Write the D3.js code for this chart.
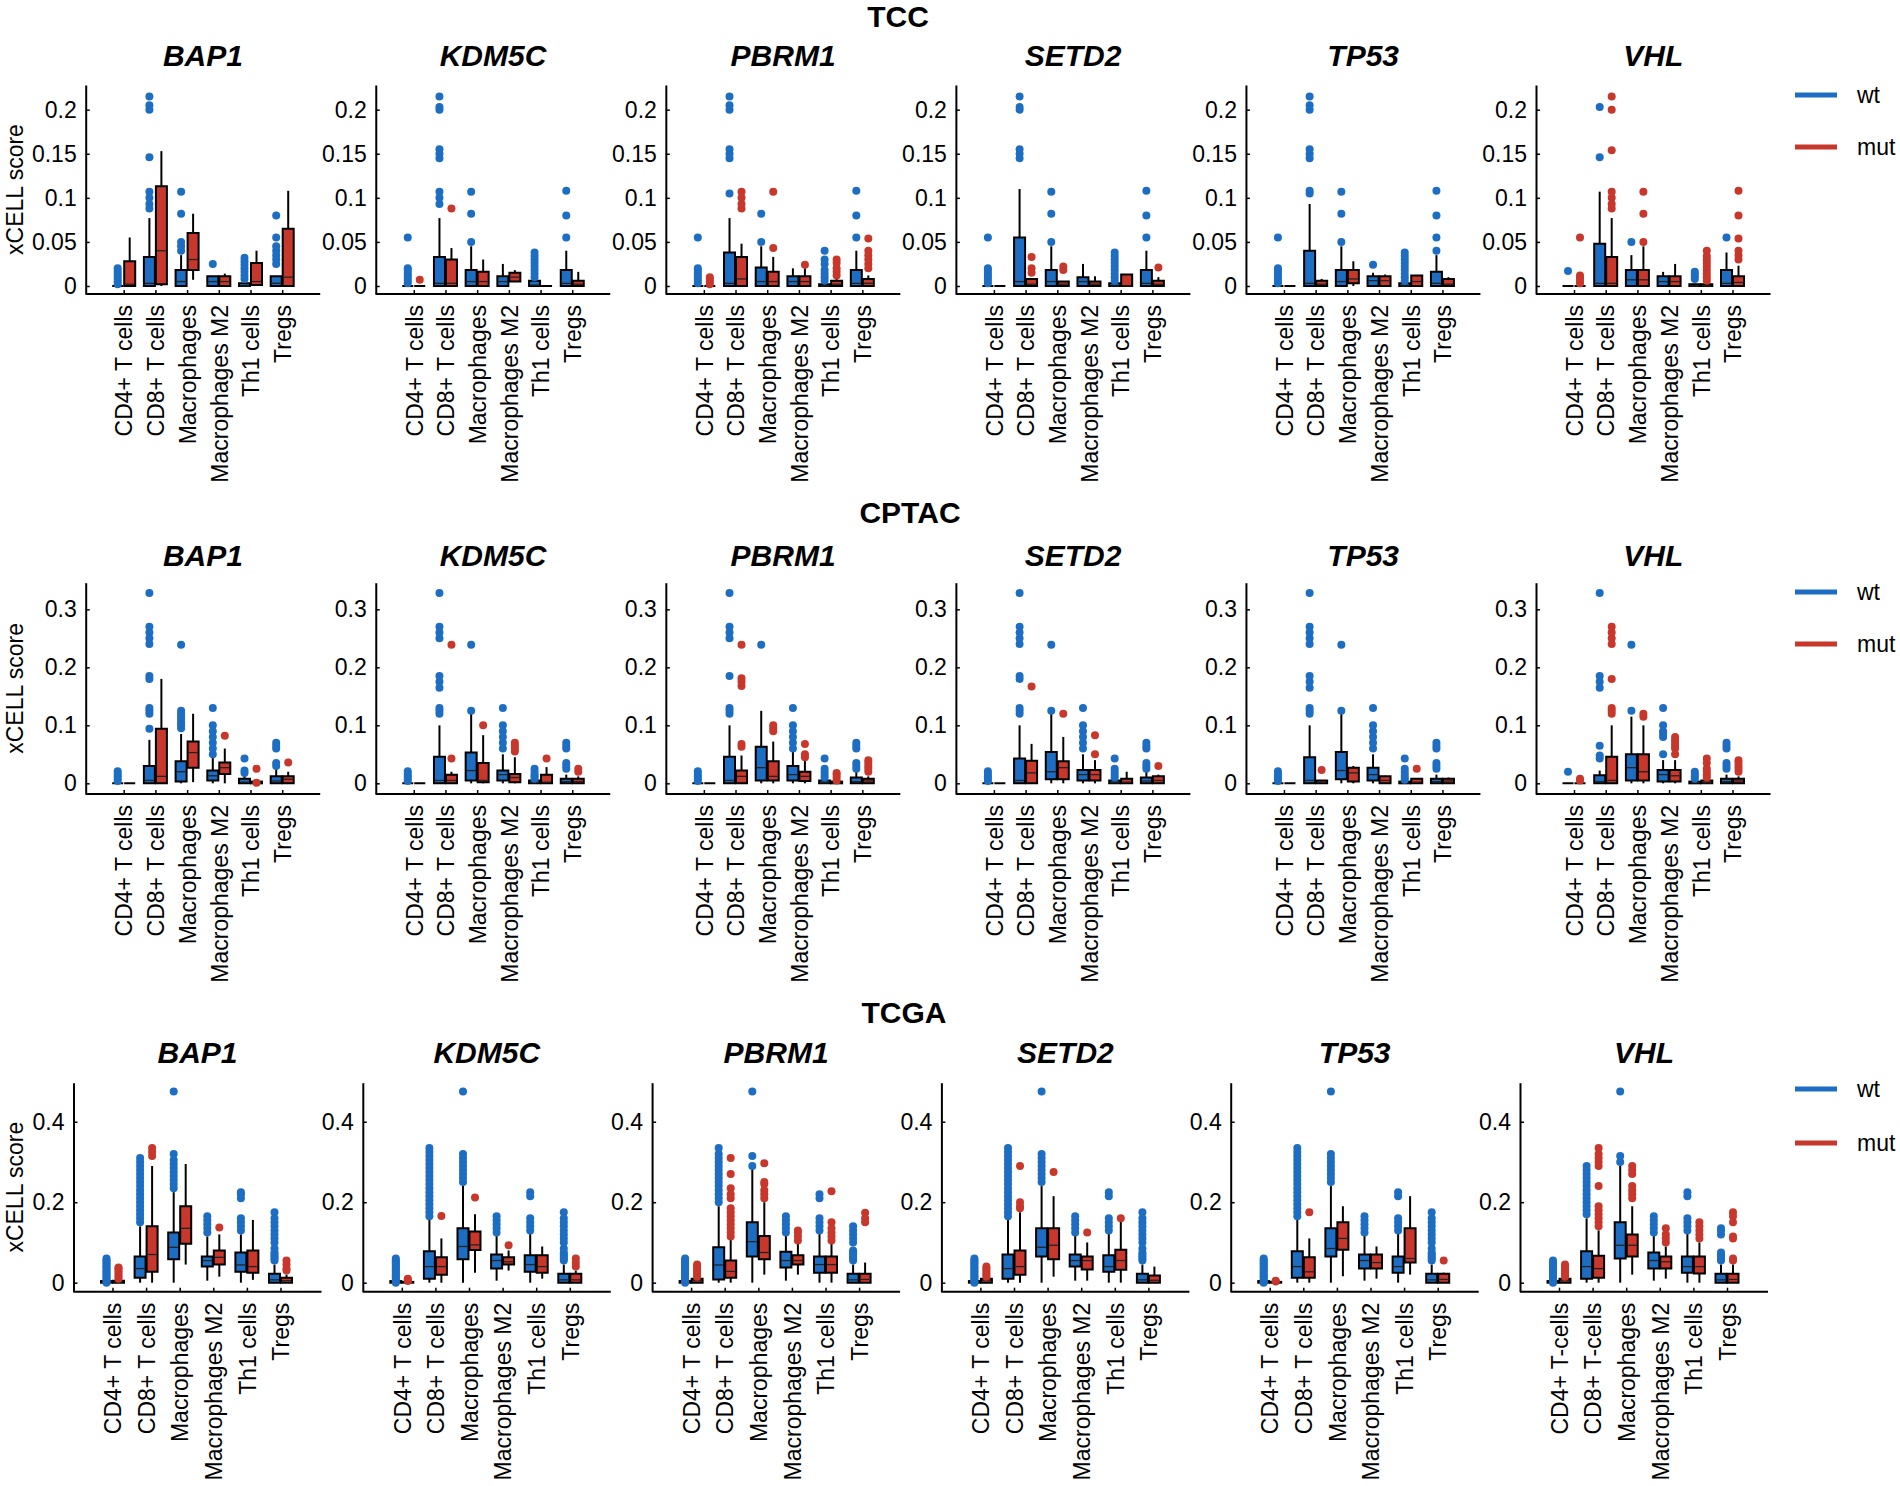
<!DOCTYPE html>
<html><head><meta charset="utf-8">
<script src="https://cdn.jsdelivr.net/npm/d3@7"></script>
<style>
body{margin:0;background:#fff;}
text{font-family:"Liberation Sans",Arial,Helvetica,sans-serif;fill:#000;}
</style>
</head><body>
<svg id="c" width="1900" height="1486"></svg>
<script>
// ---------------- data ----------------
const datasets = ["TCC", "CPTAC", "TCGA"];
const genes = ["BAP1", "KDM5C", "PBRM1", "SETD2", "TP53", "VHL"];
const cellTypes = ["CD4+ T cells", "CD8+ T cells", "Macrophages", "Macrophages M2", "Th1 cells", "Tregs"];
const cellLabelsAlt = ["CD4+ T-cells", "CD8+ T-cells", "Macrophages", "Macrophages M2", "Th1 cells", "Tregs"];
const groups = ["wt", "mut"];
const tccTicks = [0, 0.05, 0.1, 0.15, 0.2];
const cptacTicks = [0, 0.1, 0.2, 0.3];
const tcgaTicks = [0, 0.2, 0.4];

// each entry: [q1, median, q3, whiskerLow, whiskerHigh, outliers]
// order: CD4 wt, CD4 mut, CD8 wt, CD8 mut, Mac wt, Mac mut, M2 wt, M2 mut, Th1 wt, Th1 mut, Tregs wt, Tregs mut
const tccCD4wt = [0.002, 0.005, 0.008, 0.011, 0.014, 0.017, 0.02];
const tccTh1wt = [0.006, 0.01, 0.014, 0.018, 0.022, 0.026, 0.03, 0.034, 0.038];

const tcc_BAP1 = [
  [0, 0, 0, 0, 0, tccCD4wt],
  [0, 0.002, 0.028, 0, 0.055, []],
  [0, 0.003, 0.033, 0, 0.077, [0.088, 0.093, 0.1, 0.107, 0.146, 0.2, 0.205, 0.215]],
  [0.002, 0.04, 0.113, 0, 0.153, []],
  [0, 0.005, 0.018, 0, 0.035, [0.04, 0.045, 0.05, 0.082, 0.107]],
  [0.018, 0.03, 0.06, 0.007, 0.082, []],
  [0, 0.005, 0.011, 0, 0.011, [0.025]],
  [0, 0.005, 0.011, 0, 0.014, []],
  [0, 0, 0.003, 0, 0.003, [0.008, 0.012, 0.016, 0.02, 0.024, 0.028, 0.032]],
  [0.001, 0.005, 0.026, 0, 0.04, []],
  [0, 0.003, 0.011, 0, 0.011, [0.025, 0.03, 0.035, 0.04, 0.045, 0.055, 0.08]],
  [0, 0.01, 0.065, 0, 0.108, []]
];
const tcc_KDM5C = [
  [0, 0, 0, 0, 0, [0.003, 0.006, 0.009, 0.012, 0.015, 0.018, 0.02, 0.055]],
  [0, 0, 0, 0, 0, [0.007]],
  [0, 0.003, 0.033, 0, 0.077, [0.093, 0.1, 0.107, 0.145, 0.15, 0.155, 0.2, 0.203, 0.215]],
  [0, 0.003, 0.03, 0, 0.043, [0.088]],
  [0, 0.005, 0.018, 0, 0.045, [0.05, 0.082, 0.107]],
  [0, 0.005, 0.016, 0, 0.03, []],
  [0, 0.005, 0.011, 0, 0.025, []],
  [0.005, 0.01, 0.015, 0.005, 0.018, []],
  [0, 0.001, 0.006, 0, 0.006, [0.01, 0.014, 0.018, 0.022, 0.026, 0.03, 0.034, 0.038]],
  [0, 0, 0, 0, 0, []],
  [0, 0.003, 0.018, 0, 0.04, [0.055, 0.08, 0.108]],
  [0, 0.002, 0.006, 0, 0.016, []]
];
const tcc_PBRM1 = [
  [0, 0, 0, 0, 0, [0.003, 0.006, 0.009, 0.012, 0.015, 0.018, 0.02, 0.055]],
  [0, 0, 0, 0, 0, [0.002, 0.005, 0.008, 0.01]],
  [0, 0.003, 0.038, 0, 0.077, [0.105, 0.145, 0.15, 0.155, 0.2, 0.205, 0.215]],
  [0, 0.008, 0.033, 0, 0.048, [0.088, 0.093, 0.1, 0.107]],
  [0, 0.005, 0.021, 0, 0.045, [0.05, 0.082]],
  [0, 0.005, 0.016, 0, 0.033, [0.043, 0.107]],
  [0, 0.005, 0.011, 0, 0.02, []],
  [0, 0.005, 0.011, 0, 0.02, [0.024]],
  [0, 0, 0.002, 0, 0.002, [0.006, 0.01, 0.014, 0.018, 0.025, 0.03, 0.04]],
  [0, 0.002, 0.006, 0, 0.008, [0.012, 0.016, 0.02, 0.026, 0.03]],
  [0, 0.003, 0.018, 0, 0.04, [0.055, 0.08, 0.108]],
  [0, 0.003, 0.008, 0, 0.012, [0.02, 0.025, 0.03, 0.035, 0.04, 0.054]]
];
const tcc_SETD2 = [
  [0, 0, 0, 0, 0, [0.003, 0.006, 0.009, 0.012, 0.015, 0.018, 0.02, 0.055]],
  [0, 0, 0, 0, 0, []],
  [0, 0.005, 0.055, 0, 0.11, [0.145, 0.15, 0.155, 0.2, 0.203, 0.215]],
  [0, 0.002, 0.008, 0, 0.008, [0.015, 0.02, 0.033]],
  [0, 0.005, 0.018, 0, 0.045, [0.05, 0.082, 0.107]],
  [0, 0.002, 0.005, 0, 0.005, [0.018, 0.022]],
  [0, 0.005, 0.01, 0, 0.025, []],
  [0, 0.002, 0.005, 0, 0.011, []],
  [0, 0, 0.003, 0, 0.003, tccTh1wt],
  [0, 0, 0.013, 0, 0.013, []],
  [0, 0.003, 0.018, 0, 0.04, [0.055, 0.08, 0.108]],
  [0, 0.002, 0.006, 0, 0.01, [0.021]]
];
const tcc_TP53 = [
  [0, 0, 0, 0, 0, [0.003, 0.006, 0.009, 0.012, 0.015, 0.018, 0.02, 0.055]],
  [0, 0, 0, 0, 0, []],
  [0, 0.003, 0.04, 0, 0.093, [0.105, 0.108, 0.145, 0.15, 0.155, 0.2, 0.205, 0.215]],
  [0, 0.002, 0.006, 0, 0.008, []],
  [0, 0.005, 0.018, 0, 0.045, [0.05, 0.082, 0.107]],
  [0.003, 0.008, 0.018, 0, 0.028, []],
  [0, 0.006, 0.011, 0, 0.015, [0.024]],
  [0, 0.006, 0.011, 0, 0.013, []],
  [0, 0, 0.003, 0, 0.003, tccTh1wt],
  [0, 0.005, 0.012, 0, 0.012, []],
  [0, 0.003, 0.016, 0, 0.035, [0.04, 0.055, 0.08, 0.108]],
  [0, 0.002, 0.008, 0, 0.01, []]
];
const tcc_VHL = [
  [0, 0, 0, 0, 0, [0.017]],
  [0, 0, 0, 0, 0, [0.003, 0.006, 0.009, 0.012, 0.055]],
  [0, 0.003, 0.048, 0, 0.107, [0.146, 0.203]],
  [0, 0.003, 0.033, 0, 0.077, [0.088, 0.093, 0.1, 0.107, 0.154, 0.2, 0.215]],
  [0, 0.007, 0.018, 0, 0.035, [0.05]],
  [0, 0.007, 0.018, 0, 0.045, [0.05, 0.082, 0.107]],
  [0, 0.005, 0.011, 0, 0.016, []],
  [0, 0.005, 0.011, 0, 0.025, []],
  [0, 0, 0.002, 0, 0.002, [0.008, 0.011, 0.014, 0.016]],
  [0, 0, 0.002, 0, 0.002, [0.006, 0.01, 0.014, 0.018, 0.022, 0.026, 0.03, 0.034, 0.04]],
  [0, 0.003, 0.018, 0, 0.038, [0.055]],
  [0, 0.004, 0.011, 0, 0.023, [0.03, 0.035, 0.04, 0.054, 0.08, 0.108]]
];

const cpCD4wt = [0.004, 0.008, 0.012, 0.016, 0.021];
const cpCD8wt = [0.12, 0.125, 0.13, 0.165, 0.175, 0.185, 0.24, 0.25, 0.26, 0.27, 0.328];
const cpM2wt = [0.06, 0.07, 0.08, 0.09, 0.1, 0.13];
const cpTregwt = [0.025, 0.03, 0.035, 0.06, 0.065, 0.07];

const cptac_BAP1 = [
  [0, 0, 0, 0, 0, cpCD4wt],
  [0, 0, 0, 0, 0, []],
  [0, 0.005, 0.03, 0, 0.075, [0.094, 0.12, 0.125, 0.13, 0.18, 0.185, 0.24, 0.25, 0.26, 0.27, 0.328]],
  [0, 0.012, 0.094, 0, 0.18, []],
  [0.003, 0.02, 0.038, 0, 0.085, [0.095, 0.1, 0.105, 0.11, 0.115, 0.12, 0.125, 0.239]],
  [0.027, 0.053, 0.072, 0.002, 0.12, []],
  [0.005, 0.013, 0.022, 0, 0.045, [0.05, 0.06, 0.07, 0.08, 0.09, 0.1, 0.13]],
  [0.016, 0.027, 0.036, 0, 0.06, [0.082]],
  [0, 0.002, 0.008, 0, 0.013, [0.018, 0.022, 0.043]],
  [0, 0, 0.003, 0, 0.003, [0.001, 0.025]],
  [0, 0.004, 0.012, 0, 0.025, [0.03, 0.035, 0.06, 0.065, 0.07]],
  [0, 0.007, 0.012, 0, 0.02, [0.036]]
];
const cptac_KDM5C = [
  [0, 0, 0, 0, 0, cpCD4wt],
  [0, 0, 0, 0, 0, []],
  [0, 0.005, 0.046, 0, 0.1, [0.12, 0.125, 0.13, 0.165, 0.175, 0.185, 0.25, 0.26, 0.27, 0.328]],
  [0, 0.005, 0.015, 0, 0.02, [0.043, 0.239]],
  [0.005, 0.022, 0.053, 0, 0.12, [0.125, 0.239]],
  [0.002, 0.005, 0.035, 0, 0.083, [0.1]],
  [0.005, 0.015, 0.022, 0, 0.05, cpM2wt],
  [0.002, 0.01, 0.016, 0, 0.045, [0.055, 0.06, 0.065, 0.07]],
  [0, 0.001, 0.005, 0, 0.005, [0.008, 0.012, 0.015, 0.02, 0.025]],
  [0, 0.002, 0.015, 0, 0.028, [0.043]],
  [0, 0.003, 0.008, 0, 0.015, cpTregwt],
  [0, 0.003, 0.008, 0, 0.012, [0.02, 0.025]]
];
const cptac_PBRM1 = [
  [0, 0, 0, 0, 0, cpCD4wt],
  [0, 0, 0, 0, 0, []],
  [0, 0.005, 0.046, 0, 0.1, [0.12, 0.125, 0.13, 0.185, 0.25, 0.26, 0.27, 0.328]],
  [0, 0.012, 0.022, 0, 0.048, [0.063, 0.068, 0.168, 0.175, 0.181, 0.239]],
  [0.005, 0.027, 0.063, 0, 0.125, [0.239]],
  [0.005, 0.012, 0.038, 0, 0.072, [0.09, 0.095, 0.1]],
  [0.005, 0.015, 0.03, 0, 0.055, cpM2wt],
  [0.004, 0.012, 0.02, 0, 0.04, [0.045, 0.05, 0.068]],
  [0, 0.001, 0.005, 0, 0.005, [0.01, 0.015, 0.02, 0.025, 0.043]],
  [0, 0, 0.003, 0, 0.003, [0.005, 0.01, 0.015, 0.018]],
  [0, 0.003, 0.01, 0, 0.02, cpTregwt],
  [0, 0.004, 0.008, 0, 0.012, [0.02, 0.025, 0.03, 0.035, 0.04]]
];
const cptac_SETD2 = [
  [0, 0, 0, 0, 0, cpCD4wt],
  [0, 0, 0, 0, 0, []],
  [0, 0.005, 0.043, 0, 0.1, [0.12, 0.125, 0.13, 0.18, 0.185, 0.24, 0.25, 0.26, 0.27, 0.328]],
  [0, 0.018, 0.039, 0, 0.068, [0.167]],
  [0.007, 0.02, 0.054, 0, 0.12, [0.125, 0.239]],
  [0.007, 0.027, 0.038, 0, 0.08, [0.12]],
  [0.005, 0.015, 0.023, 0, 0.05, cpM2wt],
  [0.005, 0.015, 0.023, 0, 0.04, [0.05, 0.083]],
  [0, 0.001, 0.005, 0, 0.005, [0.01, 0.015, 0.02, 0.025, 0.043]],
  [0, 0.002, 0.008, 0, 0.02, []],
  [0, 0.004, 0.01, 0, 0.02, cpTregwt],
  [0, 0.005, 0.012, 0, 0.015, [0.03]]
];
const cptac_TP53 = [
  [0, 0, 0, 0, 0, cpCD4wt],
  [0, 0, 0, 0, 0, []],
  [0, 0.005, 0.045, 0, 0.1, cpCD8wt],
  [0, 0.002, 0.005, 0, 0.005, [0.023]],
  [0.007, 0.022, 0.054, 0, 0.12, [0.125, 0.239]],
  [0.003, 0.018, 0.027, 0, 0.03, []],
  [0.005, 0.015, 0.027, 0, 0.05, cpM2wt],
  [0, 0.005, 0.012, 0, 0.013, []],
  [0, 0.001, 0.003, 0, 0.003, [0.006, 0.01, 0.015, 0.02, 0.025, 0.043]],
  [0, 0.002, 0.008, 0, 0.008, [0.025]],
  [0, 0.003, 0.008, 0, 0.015, cpTregwt],
  [0, 0.004, 0.008, 0, 0.01, []]
];
const cptac_VHL = [
  [0, 0, 0, 0, 0, [0.02]],
  [0, 0, 0, 0, 0, [0.005, 0.008]],
  [0, 0.003, 0.014, 0, 0.022, [0.043, 0.048, 0.065, 0.165, 0.175, 0.185, 0.328]],
  [0, 0.005, 0.046, 0, 0.1, [0.12, 0.125, 0.13, 0.18, 0.24, 0.25, 0.26, 0.27]],
  [0.005, 0.027, 0.05, 0, 0.115, [0.125, 0.239]],
  [0.005, 0.02, 0.05, 0, 0.1, [0.115, 0.12]],
  [0.003, 0.015, 0.023, 0, 0.04, [0.05, 0.08, 0.085, 0.09, 0.1, 0.13]],
  [0.003, 0.013, 0.023, 0, 0.04, [0.05, 0.06, 0.065, 0.07, 0.075, 0.08]],
  [0, 0.001, 0.003, 0, 0.003, [0.008, 0.012, 0.016, 0.02]],
  [0, 0.001, 0.005, 0, 0.005, [0.01, 0.015, 0.02, 0.025, 0.035, 0.043]],
  [0, 0.003, 0.008, 0, 0.015, cpTregwt],
  [0, 0.004, 0.008, 0, 0.012, [0.02, 0.025, 0.03, 0.035, 0.04]]
];

const tgCD4wt = [0, 0.004, 0.008, 0.012, 0.016, 0.02, 0.024, 0.028, 0.032, 0.036, 0.04, 0.044, 0.048, 0.052, 0.056, 0.06];
const tgCD8wt = [0.165, 0.175, 0.185, 0.195, 0.205, 0.215, 0.225, 0.235, 0.245, 0.255, 0.265, 0.275, 0.285, 0.295, 0.305, 0.315, 0.325, 0.335];
const tgMacwt = [0.25, 0.26, 0.27, 0.28, 0.29, 0.3, 0.31, 0.32, 0.475];
const tgM2wt = [0.125, 0.135, 0.145, 0.155, 0.165];
const tgTh1wt = [0.13, 0.14, 0.15, 0.16, 0.215, 0.225];
const tgTregwt = [0.055, 0.06, 0.065, 0.07, 0.075, 0.085, 0.1, 0.11, 0.12, 0.13, 0.14, 0.15, 0.16, 0.175];

const tcga_BAP1 = [
  [0, 0, 0.004, 0, 0.004, tgCD4wt],
  [0, 0.002, 0.005, 0, 0.005, [0.01, 0.015, 0.02, 0.025, 0.03, 0.035, 0.038]],
  [0.012, 0.035, 0.065, 0, 0.14, [0.15, 0.16, 0.17, 0.18, 0.19, 0.2, 0.21, 0.22, 0.23, 0.24, 0.25, 0.26, 0.27, 0.28, 0.29, 0.3, 0.31]],
  [0.027, 0.07, 0.14, 0, 0.29, [0.315, 0.325, 0.335]],
  [0.058, 0.088, 0.125, 0, 0.225, [0.235, 0.245, 0.255, 0.265, 0.275, 0.285, 0.295, 0.305, 0.32, 0.475]],
  [0.097, 0.135, 0.19, 0.045, 0.295, []],
  [0.04, 0.055, 0.065, 0.005, 0.115, tgM2wt],
  [0.045, 0.063, 0.08, 0.015, 0.12, [0.137]],
  [0.027, 0.044, 0.075, 0, 0.12, [0.13, 0.14, 0.15, 0.16, 0.21, 0.22, 0.225]],
  [0.025, 0.04, 0.08, 0.007, 0.156, []],
  [0, 0.007, 0.022, 0, 0.045, tgTregwt],
  [0, 0.005, 0.012, 0, 0.02, [0.03, 0.035, 0.045, 0.055]]
];
const tcga_KDM5C = [
  [0, 0, 0.004, 0, 0.004, tgCD4wt],
  [0, 0, 0.002, 0, 0.002, [0.004, 0.007, 0.01]],
  [0.01, 0.04, 0.078, 0, 0.16, tgCD8wt],
  [0.02, 0.04, 0.063, 0, 0.11, [0.166]],
  [0.058, 0.09, 0.135, 0, 0.24, tgMacwt],
  [0.081, 0.094, 0.127, 0.025, 0.17, [0.212]],
  [0.035, 0.055, 0.07, 0.005, 0.12, tgM2wt],
  [0.045, 0.052, 0.063, 0.03, 0.08, [0.093]],
  [0.027, 0.045, 0.068, 0, 0.125, tgTh1wt],
  [0.025, 0.04, 0.068, 0.01, 0.09, []],
  [0, 0.007, 0.022, 0, 0.045, tgTregwt],
  [0, 0.007, 0.022, 0, 0.03, [0.04, 0.05, 0.06]]
];
const tcga_PBRM1 = [
  [0, 0, 0.004, 0, 0.004, tgCD4wt],
  [0, 0.005, 0.01, 0, 0.01, [0.015, 0.02, 0.025, 0.03, 0.035, 0.04, 0.045]],
  [0.008, 0.044, 0.088, 0, 0.19, [0.2, 0.21, 0.22, 0.23, 0.24, 0.25, 0.26, 0.27, 0.28, 0.29, 0.3, 0.31, 0.32, 0.335]],
  [0.012, 0.028, 0.055, 0, 0.11, [0.115, 0.125, 0.135, 0.145, 0.155, 0.165, 0.175, 0.185, 0.21, 0.22, 0.235, 0.27, 0.31]],
  [0.065, 0.102, 0.15, 0, 0.285, [0.29, 0.315, 0.475]],
  [0.058, 0.075, 0.116, 0.02, 0.2, [0.21, 0.22, 0.23, 0.245, 0.25, 0.297]],
  [0.038, 0.055, 0.077, 0.005, 0.12, tgM2wt],
  [0.045, 0.055, 0.068, 0.02, 0.1, [0.105, 0.115, 0.125, 0.13]],
  [0.025, 0.045, 0.065, 0, 0.125, [0.13, 0.14, 0.15, 0.16, 0.21, 0.22]],
  [0.025, 0.045, 0.065, 0, 0.1, [0.105, 0.115, 0.125, 0.135, 0.15, 0.227]],
  [0, 0.007, 0.022, 0, 0.045, [0.055, 0.06, 0.065, 0.07, 0.075, 0.08, 0.1, 0.11, 0.12, 0.13, 0.14]],
  [0, 0.008, 0.022, 0, 0.05, [0.15, 0.16, 0.174]]
];
const tcga_SETD2 = [
  [0, 0, 0.004, 0, 0.004, tgCD4wt],
  [0, 0.005, 0.01, 0, 0.01, [0.015, 0.02, 0.025, 0.03, 0.035, 0.04]],
  [0.01, 0.035, 0.07, 0, 0.16, tgCD8wt],
  [0.02, 0.04, 0.08, 0, 0.175, [0.185, 0.19, 0.2, 0.29]],
  [0.065, 0.088, 0.135, 0, 0.24, tgMacwt],
  [0.058, 0.093, 0.135, 0.015, 0.215, [0.275]],
  [0.04, 0.055, 0.07, 0.005, 0.12, tgM2wt],
  [0.033, 0.055, 0.065, 0.005, 0.1, [0.125]],
  [0.027, 0.04, 0.068, 0, 0.125, tgTh1wt],
  [0.032, 0.055, 0.082, 0, 0.155, [0.16]],
  [0, 0.007, 0.022, 0, 0.045, tgTregwt],
  [0, 0.006, 0.018, 0, 0.04, []]
];
const tcga_TP53 = [
  [0, 0, 0.004, 0, 0.004, tgCD4wt],
  [0, 0, 0.002, 0, 0.002, [0.003, 0.005]],
  [0.012, 0.04, 0.078, 0, 0.16, tgCD8wt],
  [0.012, 0.027, 0.063, 0, 0.11, [0.175]],
  [0.065, 0.085, 0.135, 0, 0.24, tgMacwt],
  [0.082, 0.11, 0.15, 0.016, 0.19, []],
  [0.035, 0.055, 0.07, 0.005, 0.12, tgM2wt],
  [0.035, 0.05, 0.07, 0.01, 0.09, []],
  [0.025, 0.04, 0.065, 0, 0.125, tgTh1wt],
  [0.05, 0.06, 0.135, 0.02, 0.215, []],
  [0, 0.007, 0.022, 0, 0.045, tgTregwt],
  [0, 0.008, 0.022, 0, 0.025, [0.055]]
];
const tcga_VHL = [
  [0, 0, 0.004, 0, 0.004, [0, 0.004, 0.008, 0.012, 0.016, 0.02, 0.024, 0.028, 0.032, 0.036, 0.04, 0.045, 0.05, 0.055]],
  [0, 0.005, 0.01, 0, 0.01, [0.015, 0.02, 0.025, 0.03, 0.035, 0.04, 0.045]],
  [0.01, 0.04, 0.078, 0, 0.16, [0.17, 0.18, 0.19, 0.2, 0.21, 0.22, 0.23, 0.24, 0.25, 0.26, 0.27, 0.28, 0.29]],
  [0.012, 0.035, 0.067, 0, 0.13, [0.14, 0.15, 0.16, 0.17, 0.18, 0.19, 0.24, 0.29, 0.3, 0.31, 0.32, 0.335]],
  [0.06, 0.093, 0.15, 0, 0.29, [0.3, 0.315, 0.475]],
  [0.065, 0.093, 0.12, 0.02, 0.19, [0.21, 0.22, 0.23, 0.24, 0.27, 0.28, 0.29]],
  [0.035, 0.055, 0.075, 0.005, 0.12, tgM2wt],
  [0.035, 0.052, 0.065, 0.01, 0.09, [0.1, 0.11, 0.12, 0.135]],
  [0.025, 0.04, 0.065, 0, 0.125, tgTh1wt],
  [0.023, 0.04, 0.065, 0, 0.1, [0.11, 0.12, 0.13, 0.14, 0.15]],
  [0, 0.007, 0.022, 0, 0.045, [0.055, 0.06, 0.065, 0.07, 0.075, 0.12, 0.13, 0.135]],
  [0, 0.008, 0.022, 0, 0.045, [0.055, 0.06, 0.11, 0.115, 0.15, 0.165, 0.175]]
];

// ---------------- drawing ----------------
const COL = {wt: "#1d6ec2", mut: "#c8372c"};
const FONT = 23;
const svg = d3.select("#c");

const rows = [
  {name: datasets[0], data: [tcc_BAP1, tcc_KDM5C, tcc_PBRM1, tcc_SETD2, tcc_TP53, tcc_VHL], ticks: tccTicks,
   domain: [-0.0091, 0.228], yTop: 85, yBot: 294, x0: 85.7, dx: 290.06, w: 234.5, padL: 38, padR: 38,
   titleX: 898, titleY: 27, geneY: 66, legY: [95, 147]},
  {name: datasets[1], data: [cptac_BAP1, cptac_KDM5C, cptac_PBRM1, cptac_SETD2, cptac_TP53, cptac_VHL], ticks: cptacTicks,
   domain: [-0.0184, 0.3459], yTop: 582.7, yBot: 794, x0: 85.7, dx: 290.06, w: 234.5, padL: 38, padR: 38,
   titleX: 910, titleY: 523, geneY: 566, legY: [592, 644]},
  {name: datasets[2], data: [tcga_BAP1, tcga_KDM5C, tcga_PBRM1, tcga_SETD2, tcga_TP53, tcga_VHL], ticks: tcgaTicks,
   domain: [-0.0224, 0.497], yTop: 1082.7, yBot: 1291.7, x0: 73.5, dx: 289.3, w: 248, padL: 39, padR: 41,
   titleX: 904, titleY: 1023, geneY: 1063, legY: [1089, 1143]}
];

const BOXW = 11, OFF = 6, R = 4;

rows.forEach((r, ri) => {
  svg.append("text").attr("x", r.titleX).attr("y", r.titleY).attr("text-anchor", "middle")
    .attr("font-size", 30).attr("font-weight", "bold").text(r.name);

  const y = d3.scaleLinear().domain(r.domain).range([r.yBot, r.yTop]);

  genes.forEach((gName, gi) => {
    const x0 = r.x0 + gi * r.dx;
    const x = d3.scalePoint().domain(cellTypes).range([x0 + r.padL, x0 + r.w - r.padR]);
    const g = svg.append("g");

    g.append("text").attr("x", x0 + r.w / 2).attr("y", r.geneY).attr("text-anchor", "middle")
      .attr("font-size", 30).attr("font-weight", "bold").attr("font-style", "italic").text(gName);

    // y axis
    const ya = g.append("g").attr("transform", `translate(${x0},0)`)
      .call(d3.axisLeft(y).tickValues(r.ticks).tickSizeInner(-4).tickSizeOuter(0).tickPadding(9)
        .tickFormat(d => d3.format("~g")(d)));
    ya.select(".domain").attr("stroke", "#000").attr("stroke-width", 2);
    ya.selectAll(".tick line").attr("stroke", "#000").attr("stroke-width", 1.5);
    ya.selectAll(".tick text").attr("font-size", FONT).attr("font-family", "'Liberation Sans', Arial, sans-serif").attr("fill", "#000");

    // x axis
    const labels = (ri === 2 && gName === "VHL") ? cellLabelsAlt : cellTypes;
    const xa = g.append("g").attr("transform", `translate(0,${r.yBot})`)
      .call(d3.axisBottom(x).tickSizeInner(-4).tickSizeOuter(0).tickFormat((d, i) => labels[i]));
    xa.select(".domain").remove();
    xa.selectAll(".tick line").attr("stroke", "#000").attr("stroke-width", 1.5);
    xa.selectAll(".tick text").attr("font-size", FONT).attr("font-family", "'Liberation Sans', Arial, sans-serif")
      .attr("fill", "#000").attr("transform", "rotate(-90)").attr("text-anchor", "end")
      .attr("x", -11).attr("y", 0).attr("dy", "0.36em");
    g.append("line").attr("x1", x0).attr("x2", x0 + r.w).attr("y1", r.yBot).attr("y2", r.yBot)
      .attr("stroke", "#000").attr("stroke-width", 2);

    if (gi === 0) {
      svg.append("text").attr("transform", `translate(15,${(r.yTop + r.yBot) / 2}) rotate(-90)`)
        .attr("text-anchor", "middle").attr("dy", "0.36em").attr("font-size", FONT).text("xCELL score");
    }

    // boxes
    const items = [];
    cellTypes.forEach((c, ci) => {
      groups.forEach((grp, k) => {
        const d = r.data[gi][ci * 2 + k];
        items.push({cx: x(c) + (k === 0 ? -OFF : OFF), grp, q1: d[0], med: d[1], q3: d[2], lo: d[3], hi: d[4], out: d[5]});
      });
    });

    const bx = g.append("g");
    items.forEach(it => {
      const l = it.cx - BOXW / 2, rr = it.cx + BOXW / 2;
      bx.append("line").attr("x1", it.cx).attr("x2", it.cx).attr("y1", y(it.q3)).attr("y2", y(it.hi))
        .attr("stroke", "#000").attr("stroke-width", 2);
      bx.append("line").attr("x1", it.cx).attr("x2", it.cx).attr("y1", y(it.q1)).attr("y2", y(it.lo))
        .attr("stroke", "#000").attr("stroke-width", 2);
      bx.append("path").attr("d", `M${l},${y(it.q1)}H${rr}V${y(it.q3)}H${l}Z`)
        .attr("fill", COL[it.grp]).attr("stroke", "#000").attr("stroke-width", 2);
      if (it.q3 > it.q1) {
        bx.append("line").attr("x1", l + 1).attr("x2", rr - 1).attr("y1", y(it.med)).attr("y2", y(it.med))
          .attr("stroke", "#222").attr("stroke-width", 1.3);
      }
    });
    items.forEach(it => {
      bx.selectAll(null).data(it.out).enter().append("circle")
        .attr("cx", it.cx).attr("cy", v => y(v)).attr("r", R).attr("fill", COL[it.grp]);
    });
  });

  // legend
  groups.forEach((grp, k) => {
    svg.append("line").attr("x1", 1795).attr("x2", 1837).attr("y1", r.legY[k]).attr("y2", r.legY[k])
      .attr("stroke", COL[grp]).attr("stroke-width", 5);
    svg.append("text").attr("x", 1857).attr("y", r.legY[k]).attr("dy", "0.36em").attr("font-size", FONT).text(grp);
  });
});
</script>
</body></html>
